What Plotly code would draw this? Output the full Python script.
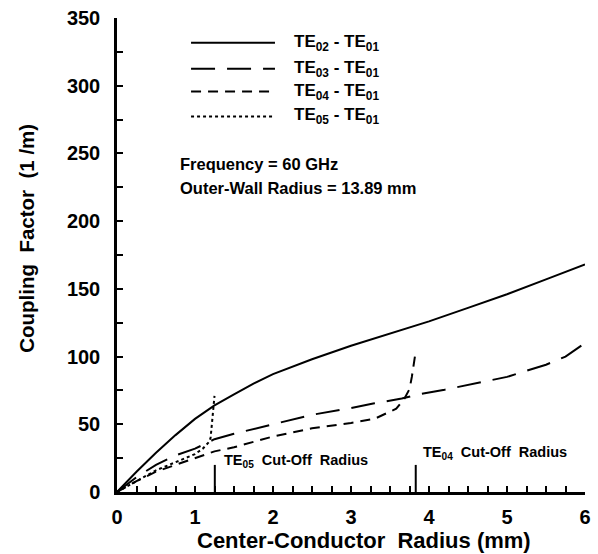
import plotly.graph_objects as go

# Data
x_te02 = [0, 0.25, 0.5, 0.75, 1.0, 1.25, 1.5, 1.75, 2.0, 2.5, 3.0, 3.5, 4.0, 4.5, 5.0, 5.5, 6.0]
y_te02 = [0, 15, 29, 42, 54, 64, 72, 80, 87, 98, 108, 117, 126, 136, 146, 157, 168]

x_te03 = [0, 0.25, 0.5, 0.75, 1.0, 1.25, 1.5, 2.0, 2.5, 3.0, 3.3, 3.65, 3.86, 4.2, 4.5, 5.0, 5.5, 5.75, 6.0]
y_te03 = [0, 11, 20, 27, 32, 39, 43, 50, 57, 62, 65.5, 69, 72, 75.5, 79, 85, 94, 100, 110]

x_te04 = [0, 0.25, 0.5, 0.75, 1.0, 1.25, 1.5, 2.0, 2.5, 3.0, 3.3, 3.58, 3.68, 3.75, 3.78, 3.81, 3.83]
y_te04 = [0, 8, 15, 20, 25, 30, 33, 41, 47, 51, 54, 61.5, 68.5, 76, 85, 95, 104]

x_te05 = [0, 0.25, 0.5, 0.75, 1.0, 1.1, 1.18, 1.2, 1.22, 1.25]
y_te05 = [0, 8, 16, 22, 28, 32, 37, 40, 55, 71]

cutoff_x = [1.254, 3.83]
cutoff_top = 20
cutoff_labels = ["TE<sub>05</sub>  Cut-Off  Radius", "TE<sub>04</sub>  Cut-Off  Radius"]
cutoff_label_x = [1.34, 3.9]
cutoff_label_y = [23, 29]

names = ["TE<sub>02</sub> - TE<sub>01</sub>", "TE<sub>03</sub> - TE<sub>01</sub>",
         "TE<sub>04</sub> - TE<sub>01</sub>", "TE<sub>05</sub> - TE<sub>01</sub>"]
dashes = ["solid", "24px,12px", "10px,7px", "3px,3px"]

FONT = "Liberation Sans, Arial, sans-serif"

# plot area in pixels (for converting legend/text positions to paper coords)
L, R, T, B = 117, 591, 15, 492
def px(xp):
    return (xp - L) / (R - L)
def py(yp):
    return (B - yp) / (B - T)

fig = go.Figure()
series = [(x_te02, y_te02), (x_te03, y_te03), (x_te04, y_te04), (x_te05, y_te05)]
for (xs, ys), nm, ds in zip(series, names, dashes):
    fig.add_trace(go.Scatter(x=xs, y=ys, mode="lines", name=nm, showlegend=False,
                             line=dict(color="black", width=2, dash=ds)))

for cx in cutoff_x:
    fig.add_trace(go.Scatter(x=[cx, cx], y=[0, cutoff_top], mode="lines", showlegend=False,
                             line=dict(color="black", width=2)))

for lx, ly, lt in zip(cutoff_label_x, cutoff_label_y, cutoff_labels):
    fig.add_annotation(x=lx, y=ly, text="<b>" + lt + "</b>", showarrow=False,
                       xanchor="left", yanchor="middle", font=dict(size=14.5, family=FONT, color="black"))

# manual legend
legend_rows = [40, 66, 89, 114]
for yrow, nm, ds in zip(legend_rows, names, dashes):
    fig.add_shape(type="line", xref="paper", yref="paper", x0=px(192), x1=px(277),
                  y0=py(yrow), y1=py(yrow), line=dict(color="black", width=2, dash=ds))
    fig.add_annotation(xref="paper", yref="paper", x=px(294), y=py(yrow), text="<b>" + nm + "</b>",
                       showarrow=False, xanchor="left", yanchor="middle",
                       font=dict(size=17, family=FONT, color="black"))

fig.add_annotation(xref="paper", yref="paper", x=px(179), y=py(162),
                   text="<b>Frequency = 60 GHz</b>", showarrow=False, xanchor="left", yanchor="middle",
                   font=dict(size=16.5, family=FONT, color="black"))
fig.add_annotation(xref="paper", yref="paper", x=px(179), y=py(186),
                   text="<b>Outer-Wall Radius = 13.89 mm</b>", showarrow=False, xanchor="left", yanchor="middle",
                   font=dict(size=16.5, family=FONT, color="black"))

# axis titles
fig.add_annotation(xref="paper", yref="paper", x=px(367), y=py(541),
                   text="<b>Center-Conductor  Radius (mm)</b>", showarrow=False,
                   xanchor="center", yanchor="middle", font=dict(size=22, family=FONT, color="black"))
fig.add_annotation(xref="paper", yref="paper", x=px(25), y=py(237), textangle=-90,
                   text="<b>Coupling  Factor  (1 /m)</b>", showarrow=False,
                   xanchor="center", yanchor="middle", font=dict(size=20.5, family=FONT, color="black"))

fig.update_layout(
    width=598, height=554,
    margin=dict(l=L, r=598 - R, t=T, b=554 - B),
    paper_bgcolor="white", plot_bgcolor="white",
    font=dict(family=FONT, color="black"),
    showlegend=False,
    xaxis=dict(range=[0, 6], dtick=1, showgrid=False, zeroline=False,
               showline=True, linecolor="black", linewidth=2.5,
               ticks="inside", ticklen=6, tickwidth=1.5, tickcolor="black",
               minor=dict(dtick=0.25, ticks="inside", ticklen=6, tickwidth=1.5, tickcolor="black"),
               tickfont=dict(size=20, family=FONT, color="black"),
               tickprefix="<b>", ticksuffix="</b>", ticklabelstandoff=5),
    yaxis=dict(range=[0, 350], dtick=50, showgrid=False, zeroline=False,
               showline=True, linecolor="black", linewidth=2.5,
               ticks="inside", ticklen=6, tickwidth=1.5, tickcolor="black",
               minor=dict(dtick=25, ticks="inside", ticklen=6, tickwidth=1.5, tickcolor="black"),
               tickfont=dict(size=20, family=FONT, color="black"),
               tickprefix="<b>", ticksuffix="</b>", ticklabelstandoff=10),
)

fig.write_html("out.html")
